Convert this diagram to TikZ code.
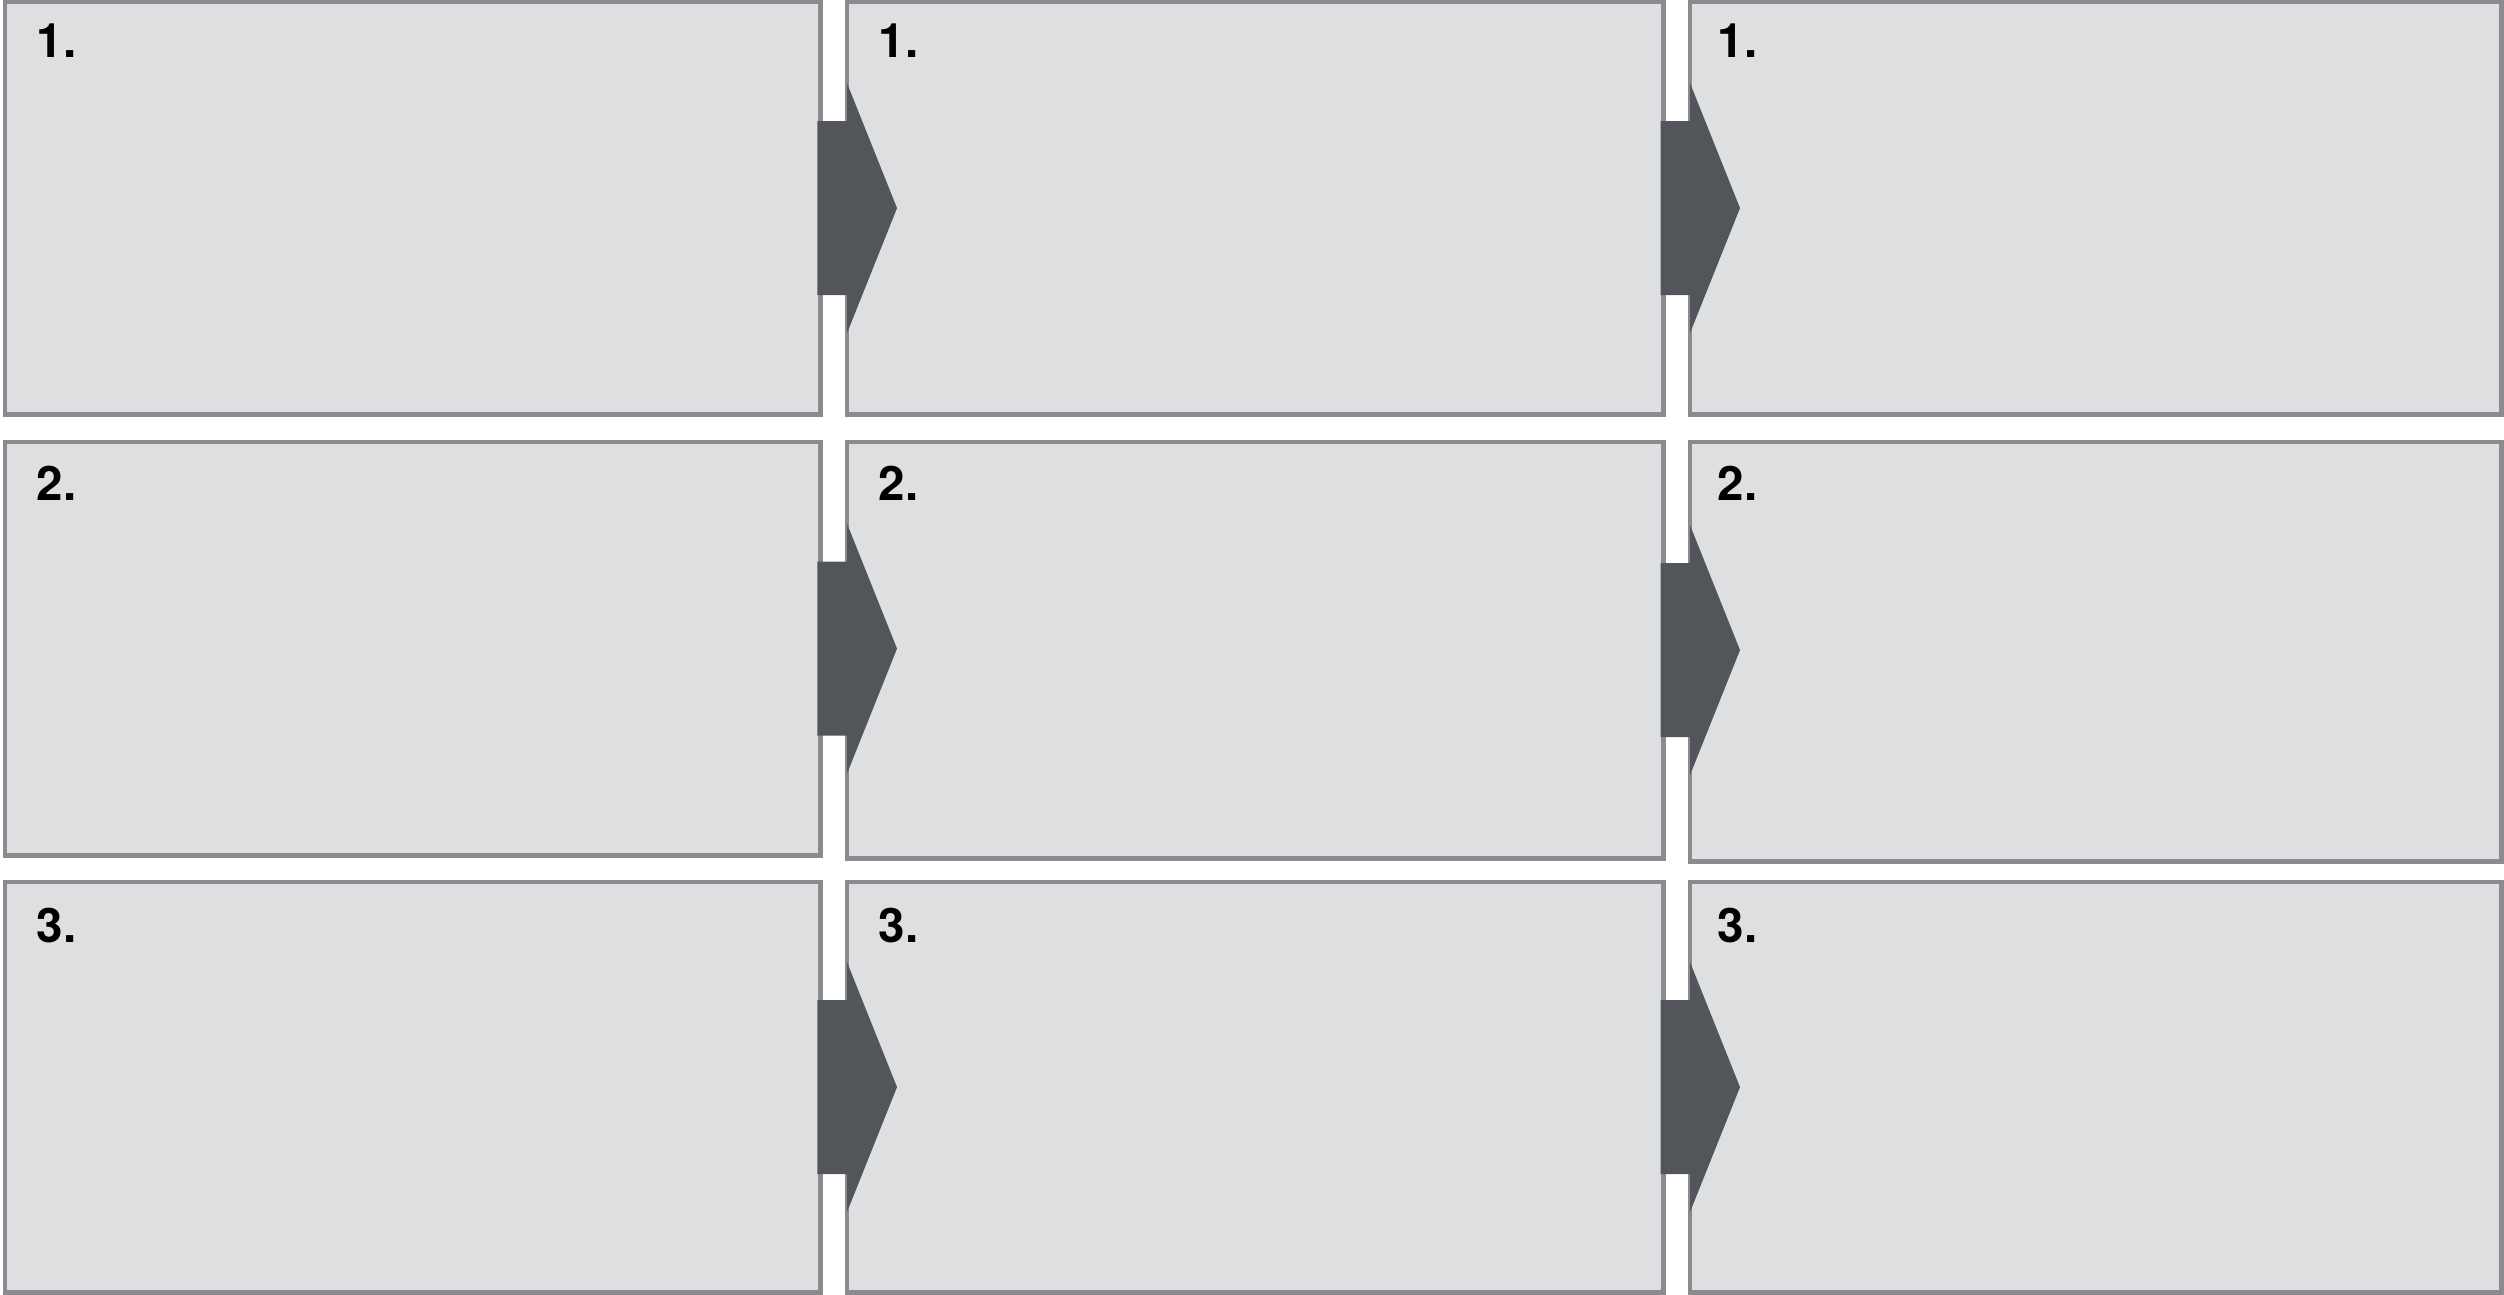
\documentclass[tikz,border=0pt]{standalone}
\usepackage{fontspec}
\setmainfont{TeX Gyre Heros}
\usetikzlibrary{calc}
\definecolor{boxfill}{HTML}{DEDFE0}
\definecolor{boxline}{HTML}{898B8E}
\definecolor{arrfill}{HTML}{52565B}
\tikzset{
  box/.style={draw=boxline, fill=boxfill, line width=1.3pt, outer sep=0pt, inner sep=0pt, anchor=north west},
  lbl/.style={anchor=base west, inner sep=0pt, font=\fontsize{13.5}{16}\selectfont\bfseries},
  blockarrow/.style={fill=arrfill, draw=none}
}
\begin{document}
\begin{tikzpicture}[x=0.01cm,y=-0.01cm]
\useasboundingbox (0,0) rectangle (2504,1295);
% row 1
\node[box, minimum width=8.15cm, minimum height=4.12cm] (b11) at (5,2) {};
\node[box, minimum width=8.16cm, minimum height=4.12cm] (b12) at (847,2) {};
\node[box, minimum width=8.11cm, minimum height=4.12cm] (b13) at (1690,2) {};
% row 2
\node[box, minimum width=8.15cm, minimum height=4.13cm] (b21) at (5,442) {};
\node[box, minimum width=8.16cm, minimum height=4.16cm] (b22) at (847,442) {};
\node[box, minimum width=8.11cm, minimum height=4.19cm] (b23) at (1690,442) {};
% row 3
\node[box, minimum width=8.15cm, minimum height=4.10cm] (b31) at (5,882) {};
\node[box, minimum width=8.16cm, minimum height=4.10cm] (b32) at (847,882) {};
\node[box, minimum width=8.11cm, minimum height=4.10cm] (b33) at (1690,882) {};
% labels
\foreach \r/\t/\dy in {1/1./56,2/2./59,3/3./60}{
  \foreach \c/\dx in {1/31,2/31,3/27}{
    \node[lbl] (l\r\c) at ($(b\r\c.north west)+(\dx,\dy)$) {\t};
  }
}
% block arrows
\foreach \r in {1,2,3}{
  \foreach \a/\b in {1/2,2/3}{
    \fill[blockarrow] ($(b\r\a.east)+(-3,-87)$) -- ($(b\r\b.west |- b\r\a.east)+(0,-87)$)
      -- ($(b\r\b.west |- b\r\a.east)+(0,-125)$) -- ($(b\r\b.west |- b\r\a.east)+(50,0)$)
      -- ($(b\r\b.west |- b\r\a.east)+(0,125)$) -- ($(b\r\b.west |- b\r\a.east)+(0,87)$)
      -- ($(b\r\a.east)+(-3,87)$) -- cycle;
  }
}
\end{tikzpicture}
\end{document}
